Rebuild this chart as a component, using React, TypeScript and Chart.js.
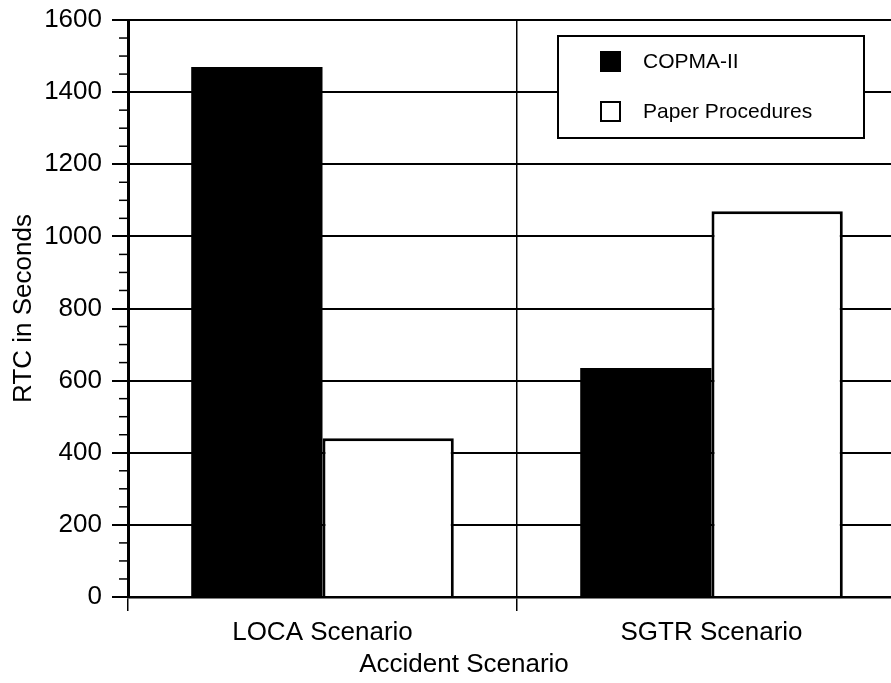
import React, { useEffect, useRef } from "react";
import { Chart, registerables } from "chart.js";

Chart.register(...registerables);

const categories = ["LOCA Scenario", "SGTR Scenario"];
const seriesLabels = ["COPMA-II", "Paper Procedures"];
const copmaValues = [1470, 635];
const paperValues = [440, 1070];
const yMin = 0;
const yMax = 1600;
const yMajorStep = 200;
const yMinorStep = 50;
const xTitle = "Accident Scenario";
const yTitle = "RTC in Seconds";

const FONT = "'Liberation Sans', Arial, Helvetica, sans-serif";

const minorTicksPlugin = {
  id: "minorTicks",
  afterDraw(chart: any) {
    const y = chart.scales.y;
    const ctx = chart.ctx;
    ctx.save();
    ctx.strokeStyle = "#000";
    ctx.lineWidth = 1.5;
    for (let v = yMin + yMinorStep; v < yMax; v += yMinorStep) {
      if (v % yMajorStep === 0) continue;
      const py = y.getPixelForValue(v);
      ctx.beginPath();
      ctx.moveTo(y.right - 9, py);
      ctx.lineTo(y.right, py);
      ctx.stroke();
    }
    ctx.restore();
  },
};

const xTitlePlugin = {
  id: "xTitle",
  afterDraw(chart: any) {
    const ctx = chart.ctx;
    ctx.save();
    ctx.fillStyle = "#000";
    ctx.font = `26px ${FONT}`;
    ctx.textAlign = "center";
    ctx.textBaseline = "middle";
    ctx.fillText(xTitle, 464, 665);
    ctx.restore();
  },
};

const legendPlugin = {
  id: "boxLegend",
  afterDatasetsDraw(chart: any) {
    const ctx = chart.ctx;
    const ds = chart.data.datasets;
    ctx.save();
    const bx = 558, by = 36, bw = 306, bh = 102;
    ctx.fillStyle = "#fff";
    ctx.fillRect(bx, by, bw, bh);
    ctx.strokeStyle = "#000";
    ctx.lineWidth = 2;
    ctx.strokeRect(bx, by, bw, bh);
    ctx.font = `21px ${FONT}`;
    ctx.textBaseline = "middle";
    ctx.textAlign = "left";
    const rows = [62, 112];
    ds.forEach((d: any, i: number) => {
      const cy = rows[i];
      const sx = 600, sy = cy - 11, ss = 21;
      ctx.fillStyle = d.backgroundColor;
      ctx.fillRect(sx, sy, ss, ss);
      if (d.borderWidth) {
        ctx.strokeStyle = "#000";
        ctx.lineWidth = 2;
        ctx.strokeRect(sx + 1, sy + 1, ss - 2, ss - 2);
      }
      ctx.fillStyle = "#000";
      ctx.fillText(d.label, 643, cy);
    });
    ctx.restore();
  },
};

export default function App() {
  const ref = useRef<HTMLCanvasElement>(null);
  useEffect(() => {
    if (!ref.current) return;
    const chart = new Chart(ref.current, {
      type: "bar",
      data: {
        labels: categories,
        datasets: [
          {
            label: seriesLabels[0],
            data: copmaValues,
            backgroundColor: "#000",
            borderWidth: 0,
          },
          {
            label: seriesLabels[1],
            data: paperValues,
            backgroundColor: "#fff",
            borderColor: "#000",
            borderWidth: 3,
          },
        ],
      },
      options: {
        responsive: false,
        animation: false,
        devicePixelRatio: 1,
        layout: { padding: { left: 8, top: 20, right: 4, bottom: 0 } },
        datasets: {
          bar: { categoryPercentage: 0.675, barPercentage: 1 },
        },
        plugins: {
          legend: { display: false },
          tooltip: { enabled: false },
        },
        scales: {
          x: {
            offset: true,
            afterFit: (s: any) => {
              s.height = 86;
            },
            grid: {
              display: true,
              offset: true,
              drawOnChartArea: true,
              color: "#000",
              lineWidth: 1.5,
              tickLength: 14,
            },
            border: { display: true, color: "#000", width: 2.5 },
            ticks: {
              color: "#000",
              font: { family: FONT, size: 26 },
              padding: 6,
              maxRotation: 0,
            },
          },
          y: {
            min: yMin,
            max: yMax,
            afterFit: (s: any) => {
              s.width = 120;
              s.paddingTop = 0;
              s.paddingBottom = 0;
            },
            grid: {
              color: "#000",
              lineWidth: 2,
              tickLength: 16,
            },
            border: { display: true, color: "#000", width: 3 },
            ticks: {
              stepSize: yMajorStep,
              color: "#000",
              font: { family: FONT, size: 26 },
              padding: 10,
              callback: (v: any) => String(v),
            },
            title: {
              display: true,
              text: yTitle,
              color: "#000",
              font: { family: FONT, size: 26 },
              padding: 0,
            },
          },
        },
      },
      plugins: [minorTicksPlugin, legendPlugin, xTitlePlugin],
    });
    return () => chart.destroy();
  }, []);
  return (
    <div
      style={{
        position: "absolute",
        left: 0,
        top: 0,
        width: 891,
        height: 683,
        overflow: "hidden",
        background: "#fff",
      }}
    >
      <canvas ref={ref} width={910} height={683} style={{ width: 910, height: 683, display: "block" }} />
    </div>
  );
}
